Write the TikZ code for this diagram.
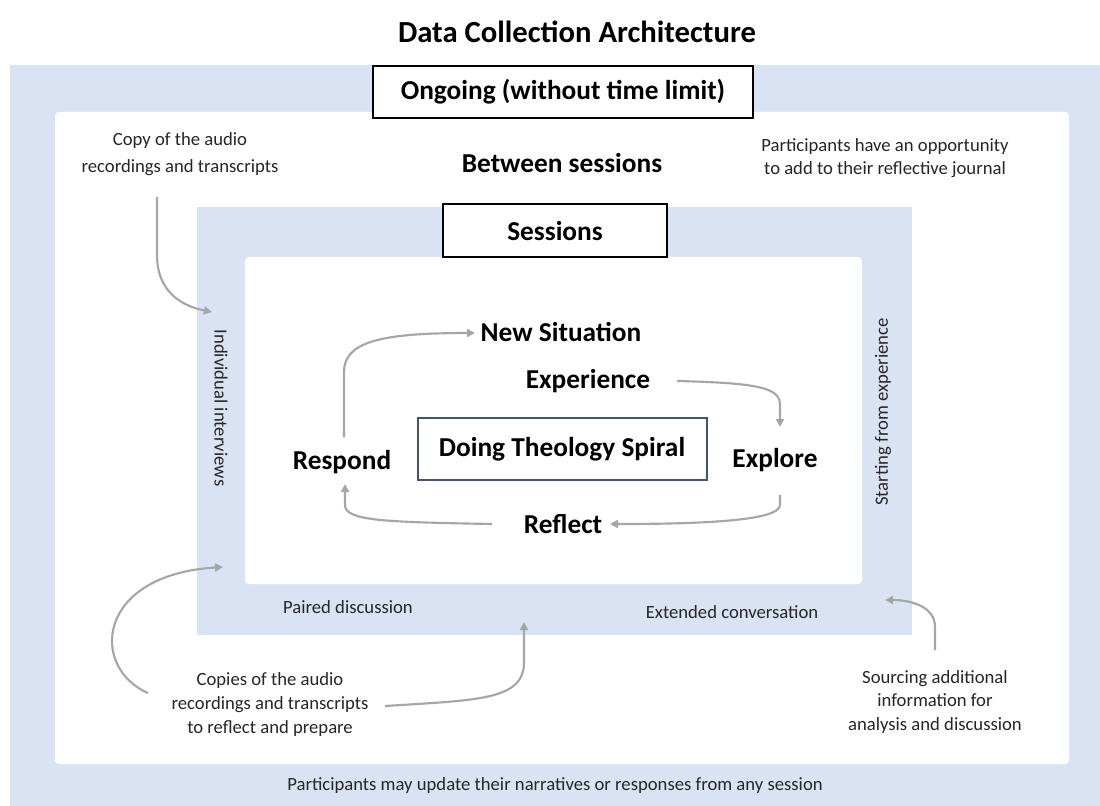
\documentclass[tikz,border=0pt]{standalone}
\usepackage{fontspec}
\setmainfont{Carlito}
\usetikzlibrary{arrows.meta}
\definecolor{panel}{HTML}{DAE3F3}
\definecolor{flow}{HTML}{A6A6A6}
\definecolor{slate}{HTML}{44546A}
\definecolor{ink}{HTML}{262626}
\begin{document}
\begin{tikzpicture}[x=0.75pt,y=-0.75pt,
  note/.style={font=\fontsize{14}{18}\selectfont, align=center, text=ink},
  phase/.style={font=\bfseries\fontsize{20.5}{24}\selectfont, text=black},
  stage/.style={font=\bfseries\fontsize{20.5}{24}\selectfont, text=black},
  framebox/.style={draw=black, line width=1.5pt, fill=white, inner sep=0pt},
  flowarrow/.style={draw=flow, line width=1.6pt, -{Triangle[length=6pt,width=6pt]}}]
\useasboundingbox (0,0) rectangle (1100,806);
\fill[white] (0,0) rectangle (1100,806);

% nested layers
\fill[panel] (10,65) rectangle (1100,806);
\fill[white, rounded corners=3pt] (55,112) rectangle (1069,764);
\fill[panel] (197,207) rectangle (912,635);
\fill[white, rounded corners=3pt] (245,257) rectangle (862,584);

% title and layer headings
\node[font=\bfseries\fontsize{23}{26}\selectfont] (title) at (577,32) {Data Collection Architecture};
\node[framebox, minimum width=285pt, minimum height=39pt, font=\bfseries\fontsize{20.5}{24}\selectfont] (ongoing) at (563,92) {Ongoing (without time limit)};
\node[phase] (between) at (562,163) {Between sessions};
\node[framebox, minimum width=168pt, minimum height=39.75pt, font=\bfseries\fontsize{20.5}{24}\selectfont] (sessions) at (555,231) {Sessions};

% notes
\node[note, font=\fontsize{14}{20}\selectfont] (copyone) at (180,154) {Copy of the audio\\recordings and transcripts};
\node[note, font=\fontsize{14}{17.5}\selectfont] (journal) at (885,158) {Participants have an opportunity\\to add to their reflective journal};
\node[note] (copies) at (270,705) {Copies of the audio\\recordings and transcripts\\to reflect and prepare};
\node[note, font=\fontsize{14}{17.5}\selectfont] (sourcing) at (935,702) {Sourcing additional\\information for\\analysis and discussion};
\node[note] (update) at (555,786) {Participants may update their narratives or responses from any session};

% session activities
\node[note, rotate=-90] (interviews) at (221,408) {Individual interviews};
\node[note, rotate=90] (starting) at (883,412) {Starting from experience};
\node[note] (paired) at (348,607) {Paired discussion};
\node[note] (extended) at (732,612) {Extended conversation};

% spiral
\node[draw=slate, line width=1.5pt, minimum width=216.75pt, minimum height=46.5pt, font=\bfseries\fontsize{20.5}{24}\selectfont] (spiral) at (562,449) {Doing Theology Spiral};
\node[stage] (newsit) at (561,332) {New Situation};
\node[stage] (experience) at (588,381) {Experience};
\node[stage] (respond) at (342,462) {Respond};
\node[stage] (explore) at (775,460) {Explore};
\node[stage] (reflect) at (563,524) {Reflect};

% connector end points
\coordinate (c1s) at (157,197);
\coordinate (c1e) at (212,312);
\coordinate (c2s) at (148,693);
\coordinate (c2e) at (223,567);
\coordinate (c3s) at (385,706);
\coordinate (c3e) at (524,622);
\coordinate (c4s) at (935,650);
\coordinate (c4e) at (885,600);
\coordinate (s1s) at (344,437);
\coordinate (s1e) at (475,333);
\coordinate (s2s) at (677,381);
\coordinate (s2e) at (780,427);
\coordinate (s3s) at (780,495);
\coordinate (s3e) at (610,524);
\coordinate (s4s) at (492,524);
\coordinate (s4e) at (345,484);

% outer connectors
\draw[flowarrow] (c1s) -- (157,255) .. controls (157,292) and (182,306) .. (c1e);
\draw[flowarrow] (c2s) .. controls (90,668) and (95,575) .. (c2e);
\draw[flowarrow] (c3s) .. controls (480,700) and (524,700) .. (524,662) -- (c3e);
\draw[flowarrow] (c4s) -- (935,627) .. controls (935,606) and (910,600) .. (c4e);

% spiral connectors
\draw[flowarrow] (s1s) -- (344,372) .. controls (344,342) and (380,333) .. (s1e);
\draw[flowarrow] (s2s) .. controls (760,383) and (780,388) .. (780,405) -- (s2e);
\draw[flowarrow] (s3s) -- (780,505) .. controls (780,521) and (700,524) .. (s3e);
\draw[flowarrow] (s4s) .. controls (385,522) and (345,521) .. (345,505) -- (s4e);
\end{tikzpicture}
\end{document}
